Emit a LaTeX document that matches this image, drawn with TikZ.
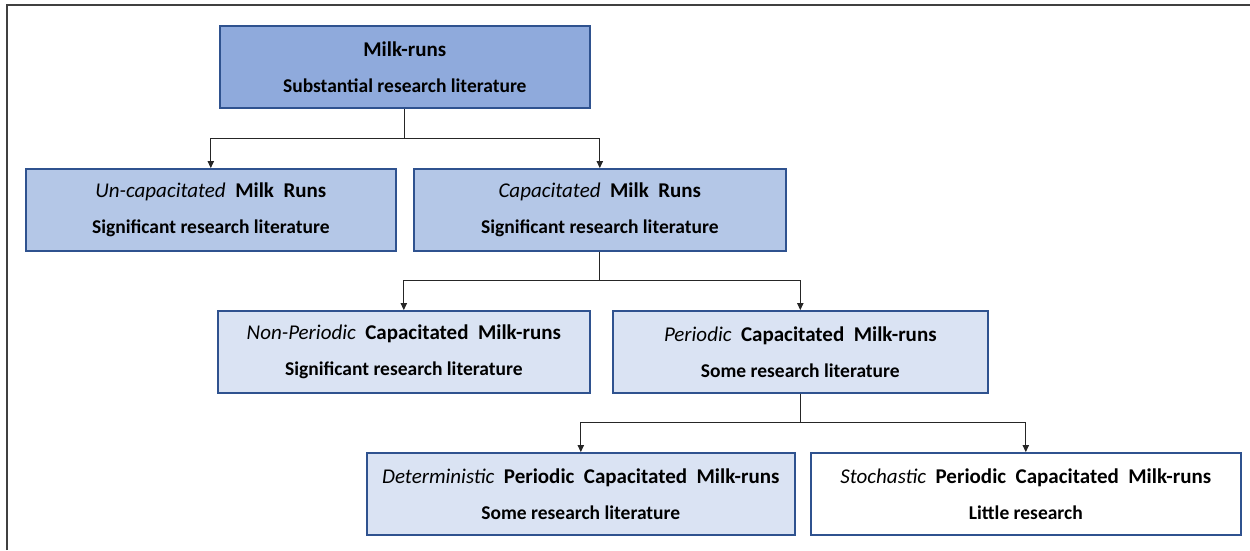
\documentclass[tikz,border=0pt]{standalone}
\usepackage{fontspec}
\setmainfont{Carlito}
\usetikzlibrary{arrows.meta}
\definecolor{bdr}{HTML}{2F528F}
\definecolor{lv1}{HTML}{8FAADC}
\definecolor{lv2}{HTML}{B4C7E7}
\definecolor{lv3}{HTML}{DAE3F3}
\newcommand\hd[1]{{\fontsize{21}{18}\selectfont #1}}
\newcommand\ital[1]{\textmd{\textit{#1}}}
\newcommand\wsp{\ \ }
\tikzset{
  box/.style={draw=bdr, line width=1.6pt, minimum height=82pt, align=center, inner sep=0pt,
    font=\fontsize{19.5}{18}\selectfont\bfseries, anchor=north west},
  conn/.style={line width=0.8pt, draw=black!85},
  arr/.style={conn, -{Triangle[length=7pt,width=6.5pt]}}
}
\begin{document}
\begin{tikzpicture}[x=1pt,y=-1pt]
\useasboundingbox (0,0) rectangle (1250,550);
\draw[line width=1.6pt, black!75] (7,550) -- (7,5) -- (1250,5);
\node[box, fill=lv1, minimum width=370pt] (top) at (219,25) {\hd{Milk-runs}\\[18pt]Substantial research literature};
\node[box, fill=lv2, minimum width=370pt] (unc) at (25,168) {\hd{\ital{Un-capacitated}\wsp Milk\wsp Runs}\\[18pt]Significant research literature};
\node[box, fill=lv2, minimum width=372pt] (cap) at (413,168) {\hd{\ital{Capacitated}\wsp Milk\wsp Runs}\\[18pt]Significant research literature};
\node[box, fill=lv3, minimum width=372pt] (nonp) at (217,310) {\hd{\ital{Non-Periodic}\wsp Capacitated\wsp Milk-runs}\\[18pt]Significant research literature};
\node[box, fill=lv3, minimum width=375pt] (per) at (612,310) {\hd{\ital{Periodic}\wsp Capacitated\wsp Milk-runs}\\[18pt]Some research literature};
\node[box, fill=lv3, minimum width=428pt] (det) at (366,452) {\hd{\ital{Deterministic}\wsp Periodic\wsp Capacitated\wsp Milk-runs}\\[18pt]Some research literature};
\node[box, fill=white, minimum width=430pt] (sto) at (810,452) {\hd{\ital{Stochastic}\wsp Periodic\wsp Capacitated\wsp Milk-runs}\\[18pt]Little research};
\coordinate (y1) at (0,138);
\coordinate (y2) at (0,280);
\coordinate (y3) at (0,422);
\coordinate (b1) at (top.south |- y1);
\coordinate (b2) at (cap.south |- y2);
\coordinate (b3) at (per.south |- y3);
\draw[conn] (top.south) -- (b1);
\draw[arr] (b1) -| (unc.north);
\draw[arr] (b1) -| (cap.north);
\draw[conn] (cap.south) -- (b2);
\draw[arr] (b2) -| (nonp.north);
\draw[arr] (b2) -| (per.north);
\draw[conn] (per.south) -- (b3);
\draw[arr] (b3) -| (det.north);
\draw[arr] (b3) -| (sto.north);
\end{tikzpicture}
\end{document}
